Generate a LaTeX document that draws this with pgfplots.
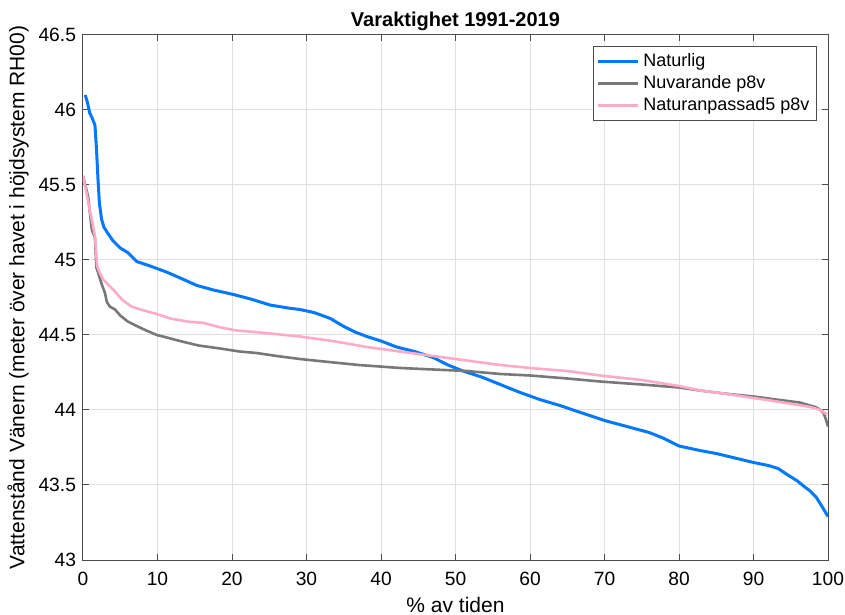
\documentclass[border=0pt]{standalone}
\usepackage{fontspec}
\setmainfont{Liberation Sans}
\usepackage{pgfplots}
\pgfplotsset{compat=1.18}
\definecolor{cblue}{RGB}{0,120,255}
\definecolor{cgray}{RGB}{120,120,120}
\definecolor{cpink}{RGB}{255,170,200}
\begin{document}
\begin{tikzpicture}
\begin{axis}[
  scale only axis,
  width=372.5pt, height=262.5pt,
  xmin=0, xmax=100, ymin=43, ymax=46.5,
  xtick={0,10,...,100},
  ytick={43,43.5,44,44.5,45,45.5,46,46.5},
  yticklabels={43,43.5,44,44.5,45,45.5,46,46.5},
  /pgf/number format/assume math mode=true,
  tick label style={font=\fontsize{9.6}{11}\selectfont},
  xticklabel style={yshift=-2.7pt},
  grid=major,
  major grid style={black!12, line width=0.5pt},
  axis line style={black!70, line width=0.5pt},
  tick style={black!70, line width=0.5pt},
  major tick length=3pt,
  tick align=inside,
  every axis title shift=0pt,
  title={Varaktighet 1991-2019},
  title style={at={(axis description cs:0.5,1)}, anchor=center, yshift=7pt, font=\bfseries\fontsize{10}{12}\selectfont},
  xlabel={\% av tiden},
  xlabel style={at={(axis description cs:0.5,0)}, anchor=center, yshift=-22.5pt, font=\fontsize{10.5}{12}\selectfont},
  ylabel={Vattenstånd Vänern (meter över havet i höjdsystem RH00)},
  ylabel style={at={(axis description cs:0,0.5)}, anchor=center, rotate=0, yshift=32.5pt, font=\fontsize{10.5}{12}\selectfont},
  legend style={at={(axis description cs:1,1)}, anchor=north east, xshift=-5.5pt, yshift=-5.5pt,
    font=\fontsize{9}{10.75}\selectfont, draw=black!70, line width=0.5pt, inner sep=1.5pt,
    row sep=-1pt},
  legend cell align=left,
  legend image code/.code={\draw[#1] (0pt,0pt) -- (20pt,0pt);},
]
\addplot[cblue, line width=1.5pt] coordinates {
(0.3,46.10)(0.6,46.05)(0.9,45.98)(1.2,45.95)(1.6,45.90)(1.8,45.75)(2.0,45.55)(2.2,45.38)(2.5,45.27)(2.8,45.22)(3.3,45.18)(4.0,45.13)(5.0,45.08)(6.0,45.05)(7.2,44.99)(9.0,44.96)(11.2,44.92)(13.5,44.87)(15.3,44.83)(17.5,44.80)(20.2,44.77)(22.5,44.74)(25.1,44.70)(27.5,44.68)(29.1,44.67)(31,44.65)(33.2,44.61)(34.9,44.56)(36.5,44.52)(38.1,44.49)(40,44.46)(42.1,44.42)(44.5,44.39)(47.0,44.35)(49,44.30)(51.0,44.26)(53.5,44.22)(56.0,44.17)(58.5,44.12)(61.3,44.07)(64,44.03)(67,43.98)(70,43.93)(73,43.89)(76,43.85)(78,43.81)(80,43.76)(82.8,43.73)(85,43.71)(87.5,43.68)(90,43.65)(92,43.63)(93.3,43.61)(94.5,43.57)(95.8,43.53)(96.8,43.49)(97.6,43.46)(98.4,43.42)(98.9,43.38)(99.4,43.34)(100,43.29)
};
\addlegendentry{Naturlig}
\addplot[cgray, line width=1.3pt] coordinates {
(0,45.56)(0.4,45.48)(0.7,45.42)(1.0,45.28)(1.2,45.20)(1.6,45.15)(1.8,44.95)(2.0,44.92)(2.5,44.84)(2.95,44.78)(3.2,44.72)(3.6,44.69)(4.3,44.67)(5.0,44.63)(6,44.59)(7.2,44.56)(8.5,44.53)(9.9,44.50)(11.5,44.48)(13.0,44.46)(15.5,44.43)(18.4,44.41)(21,44.39)(23.3,44.38)(26,44.36)(29.1,44.34)(33,44.32)(37,44.30)(42.6,44.28)(47,44.27)(51.5,44.26)(56,44.24)(60,44.23)(65,44.21)(69.4,44.19)(75,44.17)(80,44.15)(82.8,44.13)(86,44.11)(90,44.09)(93,44.07)(96.2,44.05)(98.3,44.02)(99.0,44.00)(99.4,43.98)(99.7,43.94)(100,43.89)
};
\addlegendentry{Nuvarande p8v}
\addplot[cpink, line width=1.3pt] coordinates {
(0,45.56)(0.5,45.44)(1.0,45.31)(1.3,45.24)(1.6,45.16)(1.9,44.96)(2.2,44.92)(2.7,44.87)(3.3,44.84)(4.1,44.80)(4.8,44.76)(5.4,44.73)(6.5,44.69)(7.7,44.67)(9.9,44.64)(11.7,44.61)(14,44.59)(16.2,44.58)(18.5,44.55)(20.6,44.53)(23,44.52)(25.1,44.51)(29.1,44.49)(33.5,44.46)(38.1,44.42)(42.5,44.39)(47,44.36)(51.5,44.33)(56,44.30)(60,44.28)(65,44.26)(69.4,44.23)(75,44.20)(80,44.16)(82.8,44.13)(86,44.11)(90,44.08)(94,44.05)(97.6,44.02)(99,44.00)(99.9,43.97)
};
\addlegendentry{Naturanpassad5 p8v}
\coordinate (bl) at (rel axis cs:0,0);
\coordinate (tr) at (rel axis cs:1,1);
\end{axis}
\pgfresetboundingbox
\path ([shift={(-41.5pt,-27.5pt)}]bl) rectangle ([shift={(8.5pt,17.5pt)}]tr);
\end{tikzpicture}
\end{document}
